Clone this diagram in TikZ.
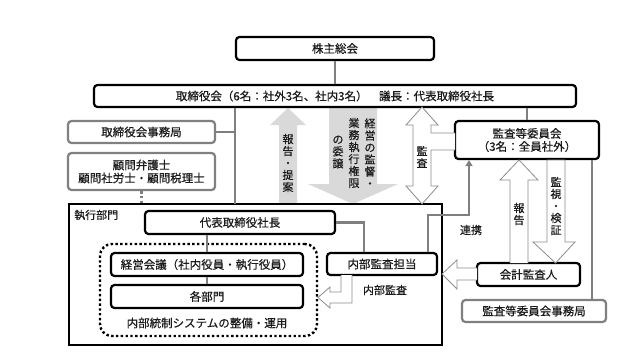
\documentclass[tikz,border=0pt]{standalone}
\usepackage{fontspec}
\setmainfont{Noto Sans CJK JP}[FakeBold=0.4]
\usetikzlibrary{arrows.meta}
\definecolor{cgray}{HTML}{7F7F7F}
\definecolor{bgray}{HTML}{808080}
\definecolor{lgray}{HTML}{D9D9D9}
\definecolor{ogray}{HTML}{8C8C8C}
\definecolor{txt}{HTML}{1A1A1A}
\begin{document}
\begin{tikzpicture}[x=1pt,y=-1pt,
  blackbox/.style={draw=black, line width=2.2pt, rounded corners=3.5pt, fill=white, inner sep=0pt, text=txt, font=\fontsize{11.5}{13}\selectfont, align=center},
  graybox/.style={draw=bgray, line width=2.2pt, rounded corners=3.5pt, fill=white, inner sep=0pt, text=txt, font=\fontsize{11.5}{13}\selectfont, align=center},
  conn/.style={draw=cgray, line width=2.4pt},
  hollow/.style={draw=ogray, line width=0.8pt, fill=white, line join=miter},
  lightarrow/.style={fill=lgray, draw=none},
  vlab/.style={font=\fontsize{11}{12}\selectfont, align=center, inner sep=0pt, text=txt},
  lab/.style={font=\fontsize{11}{13}\selectfont, inner sep=0pt, text=txt}]
\useasboundingbox (0,0) rectangle (644,360);

% light filled arrows
\path[lightarrow] (279,204) -- (279,125) -- (270,125) -- (288,108) -- (306,125) -- (297,125) -- (297,204) -- cycle;
\path[lightarrow] (329,107) -- (329,184) -- (308,184) -- (353,204) -- (398,184) -- (377,184) -- (377,107) -- cycle;

% coordinates for connector routing
\coordinate (trunk) at (235,204);
\coordinate (iaTurn) at (364,222.5);
\coordinate (linkA) at (428,215);
\coordinate (linkB) at (469,215);
\coordinate (secx) at (592,300);

% nodes
\node[blackbox, minimum width=198, minimum height=23] (agm) at (335,48.5) {株主総会};
\node[blackbox, minimum width=482, minimum height=22] (board) at (335,96) {取締役会（6名：社外3名、社内3名）　議長：代表取締役社長};
\node[graybox, minimum width=147, minimum height=22] (bsec) at (141.5,132) {取締役会事務局};
\node[graybox, minimum width=147, minimum height=37] (adv) at (141.5,171.5) {顧問弁護士\\顧問社労士・顧問税理士};
\node[draw=black, line width=1.2pt, minimum width=373, minimum height=141, inner sep=0pt] (exec) at (255.5,274.5) {};
\node[lab, anchor=west] (execlab) at (74,215) {執行部門};
\node[blackbox, minimum width=190, minimum height=23] (pres) at (240,222.5) {代表取締役社長};
\node[draw=black, line width=2.4pt, dash pattern=on 2.4pt off 2.4pt, rounded corners=12pt, minimum width=217, minimum height=92, inner sep=0pt] (ics) at (208.5,290) {};
\node[blackbox, minimum width=192, minimum height=23] (mgmt) at (207,264.5) {経営会議（社内役員・執行役員）};
\node[blackbox, minimum width=192, minimum height=23] (dept) at (207,296.5) {各部門};
\node[lab, font=\fontsize{11.5}{13}\selectfont] (icslab) at (207,323) {内部統制システムの整備・運用};
\node[blackbox, minimum width=110, minimum height=22] (ia) at (382,264) {内部監査担当};
\node[blackbox, minimum width=144, minimum height=38] (ac) at (527,140) {監査等委員会\\（3名：全員社外）};
\node[blackbox, minimum width=103, minimum height=23] (ext) at (528.5,274.5) {会計監査人};
\node[graybox, minimum width=144, minimum height=22] (acsec) at (534,311) {監査等委員会事務局};

% connectors
\draw[conn] (agm.south) -- (board.north);
\draw[conn] (board.south -| trunk) -- (trunk);
\draw[conn] (bsec.east) -- (bsec.east -| trunk);
\draw[draw=cgray, line width=2.4pt, dash pattern=on 2.4pt off 2.4pt] (adv.south) -- (adv.south |- exec.north);
\draw[conn] (pres.south -| mgmt.north) -- (mgmt.north);
\draw[conn] (mgmt.south) -- (dept.north);
\draw[conn] (pres.east) -- (iaTurn) -- (ia.north -| iaTurn);
\draw[conn, -{Triangle[length=6pt,width=7pt]}] (ia.north -| linkA) -- (linkA) -- (linkB) -- (ac.south -| linkB);
\draw[conn] (board.south -| ac.north) -- (ac.north);
\draw[conn] (ac.south -| secx) -- (acsec.north -| secx);

% hollow arrows
\draw[hollow] (455,133) -- (431,133) -- (431,125) -- (438,125) -- (422,107) -- (406,125) -- (413,125) -- (413,186) -- (406,186) -- (422,204) -- (438,186) -- (431,186) -- (431,150) -- (455,150);
\draw[hollow] (510,263) -- (510,180) -- (500,180) -- (519,160) -- (538,180) -- (528,180) -- (528,263);
\draw[hollow] (547,160) -- (547,242) -- (533,242) -- (555.5,263) -- (575,242) -- (565,242) -- (565,160) -- cycle;
\draw[hollow] (477,268) -- (457,268) -- (457,260) -- (442,274) -- (457,289) -- (457,280) -- (477,280);
\draw[hollow] (341,275) -- (341,292) -- (330,292) -- (330,287) -- (318,297.5) -- (330,308) -- (330,303) -- (352,303) -- (352,275);

% labels
\node[vlab] (l1) at (288,163) {報\\告\\・\\提\\案};
\node[vlab] (l2a) at (370,153) {経\\営\\の\\監\\督\\・};
\node[vlab] (l2b) at (354,153) {業\\務\\執\\行\\権\\限};
\node[vlab] (l2c) at (338,152) {の\\委\\譲};
\node[vlab] (l3) at (422,157) {監\\査};
\node[vlab] (l4) at (519,214) {報\\告};
\node[vlab] (l5) at (556,206) {監\\視\\・\\検\\証};
\node[lab] (l6) at (471,230) {連携};
\node[lab] (l7) at (385,290) {内部監査};
\end{tikzpicture}
\end{document}
